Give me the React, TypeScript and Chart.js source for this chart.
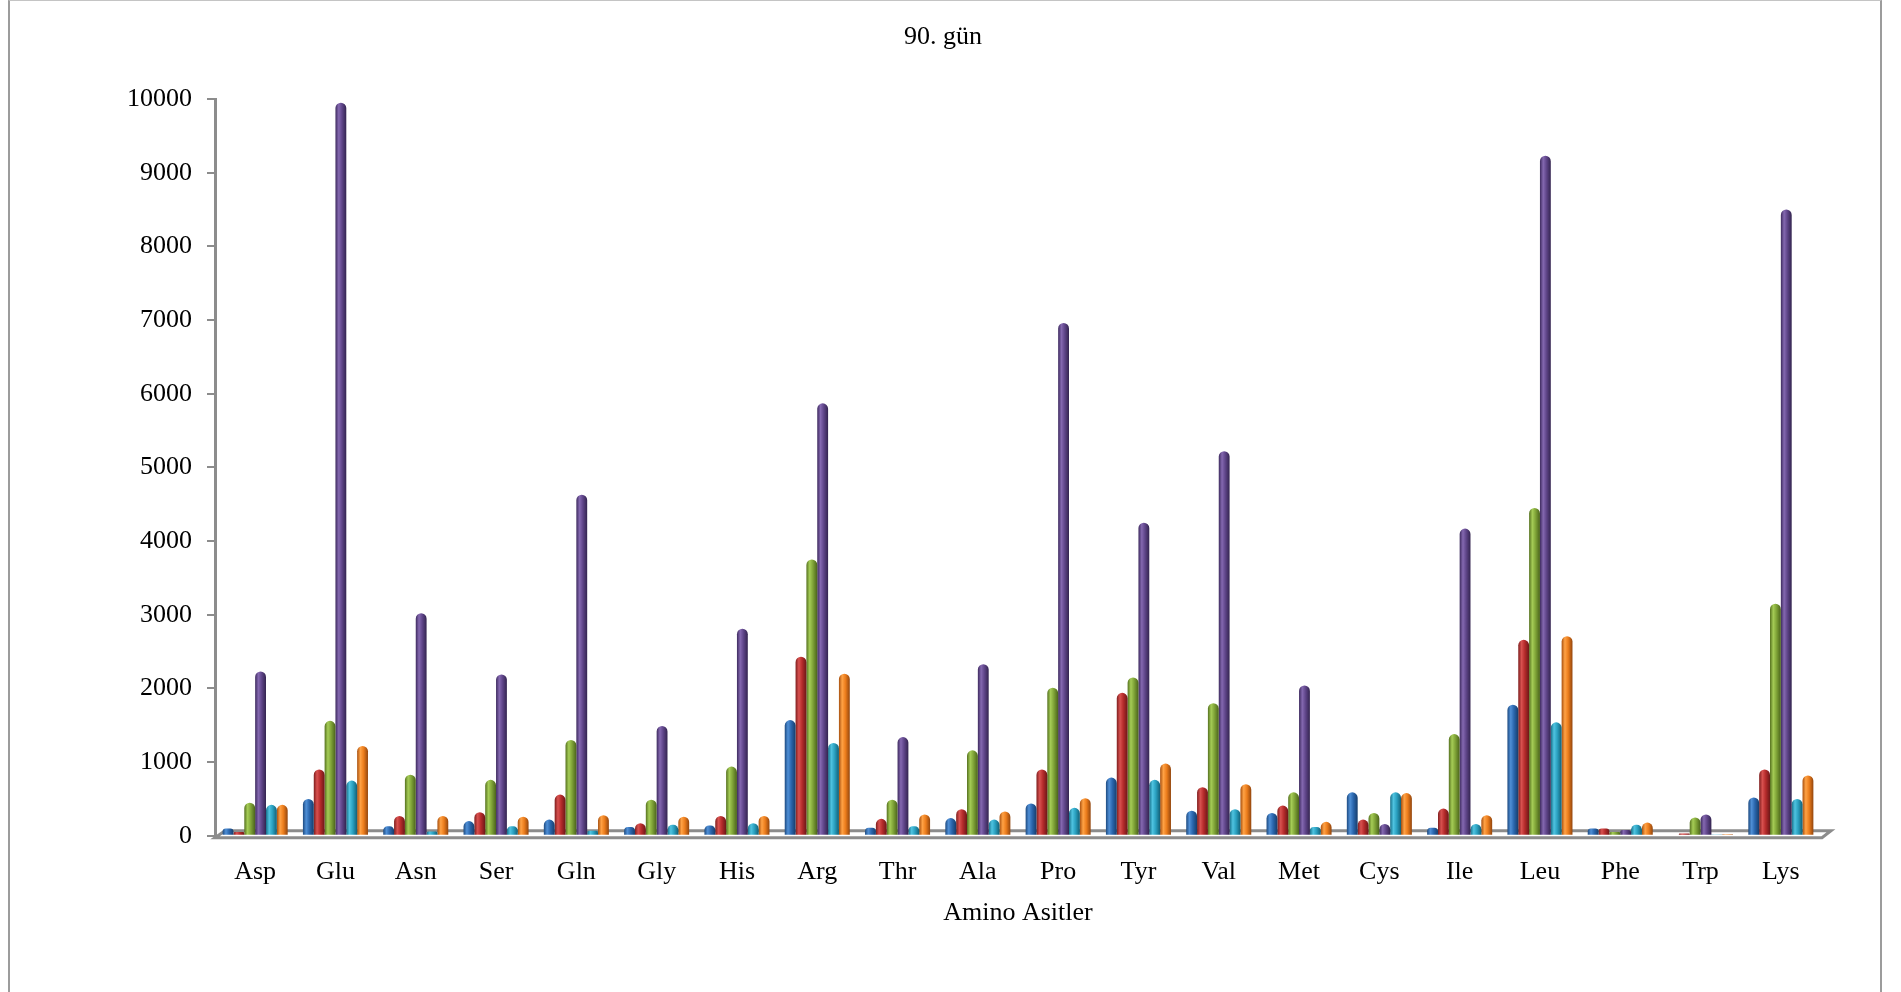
import React, { useEffect, useRef } from "react";
import { Chart, registerables } from "chart.js";

Chart.register(...registerables);

// Amino acid categories along the x axis
const categories = [
  "Asp", "Glu", "Asn", "Ser", "Gln", "Gly", "His", "Arg", "Thr", "Ala",
  "Pro", "Tyr", "Val", "Met", "Cys", "Ile", "Leu", "Phe", "Trp", "Lys",
];

// Six sample series (day 90)
const seriesBlue = [100, 500, 130, 200, 220, 120, 140, 1570, 110, 240, 440, 790, 340, 310, 590, 110, 1780, 100, 15, 520];
const seriesRed = [50, 900, 270, 320, 560, 170, 270, 2430, 230, 360, 900, 1940, 660, 410, 220, 370, 2660, 100, 30, 900];
const seriesGreen = [450, 1560, 830, 760, 1300, 490, 940, 3750, 490, 1160, 2010, 2150, 1800, 590, 310, 1380, 4450, 50, 250, 3150];
const seriesPurple = [2230, 9950, 3020, 2190, 4630, 1490, 2810, 5870, 1340, 2330, 6960, 4250, 5220, 2040, 160, 4170, 9230, 80, 290, 8500];
const seriesCyan = [420, 750, 60, 130, 70, 150, 170, 1260, 130, 220, 380, 760, 360, 120, 590, 160, 1540, 150, 10, 500];
const seriesOrange = [420, 1220, 270, 260, 280, 260, 270, 2200, 290, 330, 510, 980, 700, 190, 580, 280, 2710, 180, 20, 820];

const chartTitle = "90. gün";
const xAxisTitle = "Amino Asitler";

// Cylinder shading stops per series: [edge dark, highlight, body, edge dark]
const palette = [
  ["#1d4a80", "#4f8fd6", "#2a66ad", "#173d6b"],
  ["#7e1d1d", "#d8514f", "#b52b2b", "#6c1717"],
  ["#55711f", "#a5cc56", "#7fa337", "#4a631b"],
  ["#3d2a5e", "#8468b0", "#5f4589", "#33244f"],
  ["#17708a", "#4fc3e0", "#2aa0c0", "#135f75"],
  ["#a8500f", "#ffa245", "#ec7d1c", "#92450d"],
];

const seriesList = [seriesBlue, seriesRed, seriesGreen, seriesPurple, seriesCyan, seriesOrange];

const FONT = "'Liberation Serif', 'Times New Roman', serif";

// Gives each bar a horizontal gradient so it reads as a cylinder
const cylinderShading = {
  id: "cylinderShading",
  beforeDatasetsDraw(chart: any) {
    const ctx = chart.ctx;
    chart.data.datasets.forEach((_ds: any, di: number) => {
      const meta = chart.getDatasetMeta(di);
      const stops = palette[di];
      meta.data.forEach((el: any) => {
        const { x, width } = el.getProps(["x", "width"], true);
        const g = ctx.createLinearGradient(x - width / 2, 0, x + width / 2, 0);
        g.addColorStop(0, stops[0]);
        g.addColorStop(0.3, stops[1]);
        g.addColorStop(0.6, stops[2]);
        g.addColorStop(1, stops[3]);
        el.options = { ...el.options, backgroundColor: g };
      });
    });
  },
};

// Grey floor plate under the bars
const floorPlate = {
  id: "floorPlate",
  beforeDatasetsDraw(chart: any) {
    const { ctx, chartArea } = chart;
    const y0 = chart.scales.y.getPixelForValue(0);
    const left = chartArea.left;
    const right = chartArea.right;
    ctx.save();
    ctx.strokeStyle = "#8c8c8c";
    ctx.lineWidth = 3;
    ctx.beginPath();
    ctx.moveTo(left, y0 + 2);
    ctx.lineTo(left + 10, y0 - 5);
    ctx.lineTo(right + 10, y0 - 5);
    ctx.lineTo(right + 1, y0 + 2);
    ctx.closePath();
    ctx.stroke();
    ctx.restore();
  },
};

// Chart title and category-axis title
const titles = {
  id: "titles",
  afterDraw(chart: any) {
    const { ctx, chartArea } = chart;
    ctx.save();
    ctx.fillStyle = "#000";
    ctx.font = `26px ${FONT}`;
    ctx.textAlign = "center";
    ctx.textBaseline = "middle";
    ctx.fillText(chartTitle, chart.width / 2 - 2, 36);
    ctx.fillText(xAxisTitle, (chartArea.left + chartArea.right) / 2, 912);
    ctx.restore();
  },
};

export default function App() {
  const canvasRef = useRef<HTMLCanvasElement | null>(null);

  useEffect(() => {
    if (!canvasRef.current) return;
    const chart = new Chart(canvasRef.current, {
      type: "bar",
      data: {
        labels: categories,
        datasets: seriesList.map((values, i) => ({
          label: `Seri ${i + 1}`,
          data: values,
          backgroundColor: palette[i][2],
          borderWidth: 0,
          borderRadius: 6,
          borderSkipped: "start",
          categoryPercentage: 0.81,
          barPercentage: 1.0,
        })),
      },
      options: {
        responsive: false,
        animation: false,
        devicePixelRatio: 1,
        layout: { padding: { left: 0, right: 59, top: 98, bottom: 90 } },
        plugins: {
          legend: { display: false },
          tooltip: { enabled: false },
          title: { display: false },
        },
        scales: {
          x: {
            grid: { display: false },
            border: { display: false },
            ticks: {
              color: "#000",
              font: { family: FONT, size: 26 },
              padding: 13,
              maxRotation: 0,
              autoSkip: false,
            },
          },
          y: {
            min: 0,
            max: 10000,
            afterFit(scale: any) {
              scale.width = 205;
            },
            ticks: {
              stepSize: 1000,
              color: "#000",
              font: { family: FONT, size: 26 },
              padding: 15,
              callback: (v: any) => String(v),
            },
            grid: {
              drawOnChartArea: false,
              tickLength: 8,
              color: "#8c8c8c",
              lineWidth: 2,
            },
            border: { color: "#8c8c8c", width: 3 },
          },
        },
      },
      plugins: [floorPlate, cylinderShading, titles],
    });
    return () => chart.destroy();
  }, []);

  return (
    <div
      style={{
        position: "absolute",
        left: 8,
        top: 0,
        width: 1870,
        height: 1000,
        borderLeft: "2px solid #9c9c9c",
        borderRight: "2px solid #9c9c9c",
        borderTop: "1px solid #c4c4c4",
        borderBottom: "1px solid #c4c4c4",
        background: "#fff",
      }}
    >
      <canvas ref={canvasRef} width={1870} height={990} style={{ display: "block" }} />
    </div>
  );
}
